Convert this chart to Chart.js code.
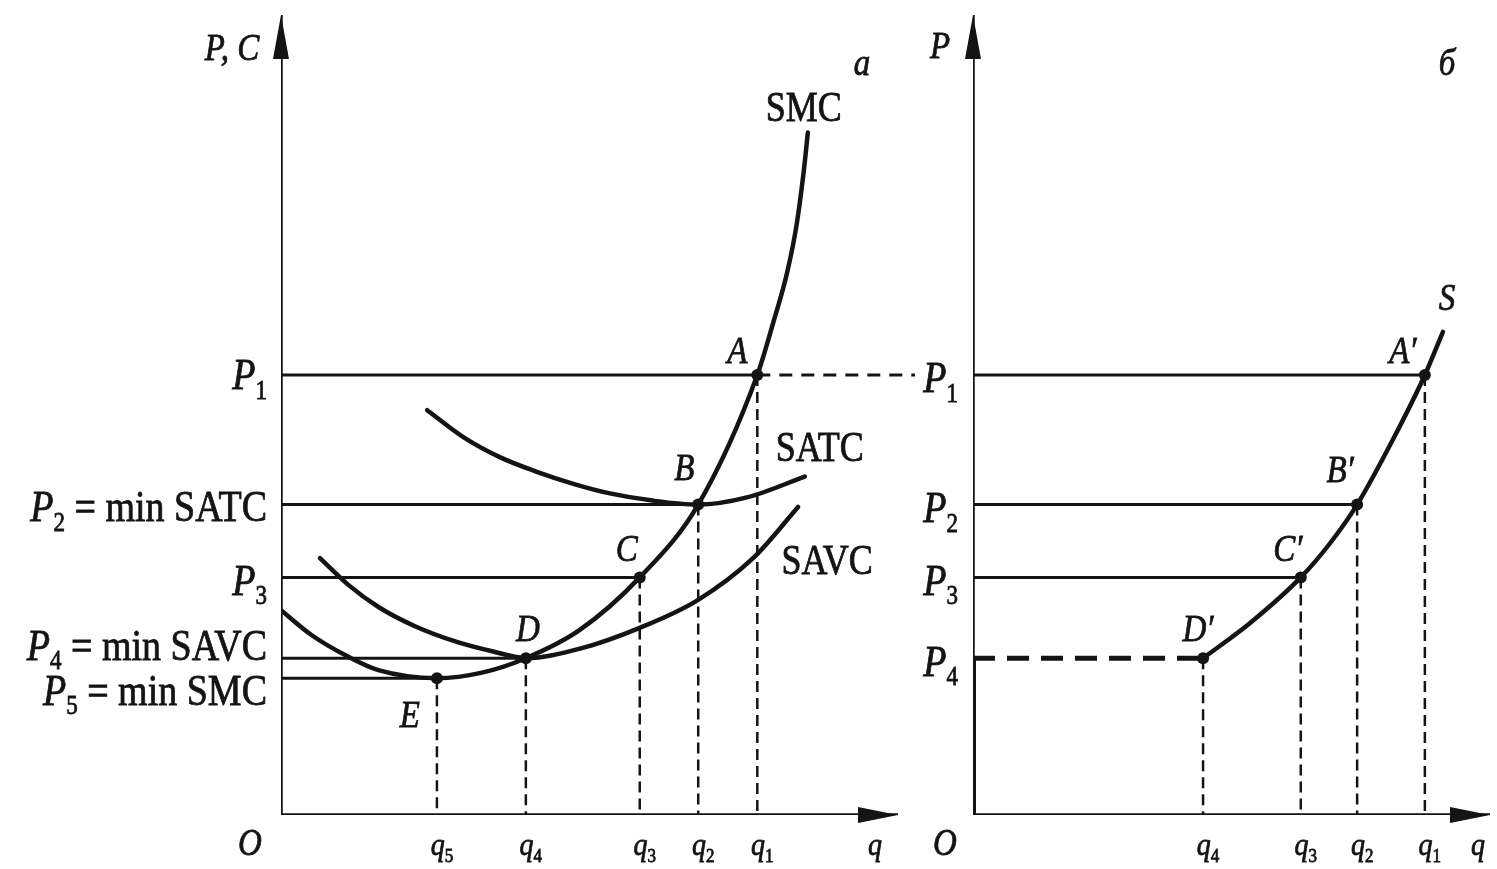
<!DOCTYPE html>
<html><head><meta charset="utf-8">
<script src="https://cdn.jsdelivr.net/npm/chart.js@4.4.1/dist/chart.umd.min.js"></script>
<style>
html,body{margin:0;padding:0;background:#fff;overflow:hidden}
#wrap{position:relative;width:1497px;height:869px;background:#fff}
canvas{position:absolute;left:0;top:0}
</style></head><body>
<div id="wrap"><canvas id="ca" width="1497" height="869"></canvas><canvas id="cb" width="1497" height="869"></canvas></div>
<script>
// ---------- Panel а (costs) ----------
const qA = [7.82, 6.85, 5.89, 4.02, 2.56];            // q1..q5
const pA = [5.5, 3.88, 2.97, 1.96, 1.71];             // P1..P5
const qTickLabelsA = ['q_1', 'q_2', 'q_3', 'q_4', 'q_5'];
const pTickLabelsA = ['P_1', 'P_2 = min SATC', 'P_3', 'P_4 = min SAVC', 'P_5 = min SMC'];
const pointLabelsA = ['A', 'B', 'C', 'D', 'E'];
const smcQ  = [0, 0.5, 1.1, 1.6, 2.56, 3.3, 4.02, 4.9, 5.89, 6.85, 7.82, 8.08, 8.31, 8.47, 8.58, 8.65];
const smcC  = [2.56, 2.25, 1.98, 1.81, 1.71, 1.78, 1.96, 2.31, 2.97, 3.88, 5.5, 6.15, 6.78, 7.4, 8.03, 8.53];
const satcQ = [2.40, 3.0, 3.6, 4.2, 4.8, 5.4, 6.1, 6.85, 7.65, 8.60];
const satcC = [5.06, 4.72, 4.47, 4.29, 4.14, 4.02, 3.93, 3.88, 3.97, 4.23];
const savcQ = [0.64, 1.1, 1.6, 2.2, 2.9, 3.5, 4.02, 4.91, 5.89, 6.83, 7.75, 8.49];
const savcC = [3.21, 2.88, 2.60, 2.36, 2.16, 2.04, 1.96, 2.08, 2.34, 2.68, 3.21, 3.85];
const curveNamesA = ['SMC', 'SATC', 'SAVC'];
const p1DashEndA = 10.41;

// ---------- Panel б (supply) ----------
const qB = [8.74, 7.43, 6.34, 4.45];                  // q1..q4
const pB = [5.5, 3.88, 2.97, 1.96];                   // P1..P4
const qTickLabelsB = ['q_1', 'q_2', 'q_3', 'q_4'];
const pTickLabelsB = ['P_1', 'P_2', 'P_3', 'P_4'];
const pointLabelsB = ['A\u2032', 'B\u2032', 'C\u2032', 'D\u2032'];
const supplyQ = [4.45, 5.36, 6.34, 6.91, 7.43, 8.12, 8.74, 9.09];
const supplyP = [1.96, 2.40, 2.97, 3.40, 3.88, 4.69, 5.50, 6.04];

const INK = '#141414';
const FONT = '"Liberation Serif", "DejaVu Serif", serif';
const SY = 1.15;

function pts(xs, ys) { return xs.map((x, i) => ({ x, y: ys[i] })); }

function parseRich(str, style) {
  if (style === 'roman') return [{ t: str }];
  if (style === 'italic') return [{ t: str, it: true }];
  const sp = str.indexOf(' ');
  const head = sp < 0 ? str : str.slice(0, sp);
  const tail = sp < 0 ? '' : str.slice(sp);
  const parts = head.split('_');
  const segs = [{ t: parts[0], it: true }];
  if (parts[1]) segs.push({ t: parts[1], sub: true });
  if (tail) segs.push({ t: tail });
  return segs;
}

function drawRich(ctx, segs, x, cy, align, size) {
  ctx.save();
  const base = cy + 0.33 * size * SY;
  ctx.translate(x, base);
  ctx.scale(1, SY);
  const fonts = segs.map(s => (s.it ? 'italic ' : '') + (s.sub ? Math.round(size * 0.6) : size) + 'px ' + FONT);
  const widths = segs.map((s, i) => { ctx.font = fonts[i]; return ctx.measureText(s.t).width; });
  const total = widths.reduce((a, b) => a + b, 0);
  let cx = align === 'right' ? -total : (align === 'center' ? -total / 2 : 0);
  ctx.textBaseline = 'alphabetic';
  ctx.fillStyle = INK;
  ctx.strokeStyle = INK;
  ctx.lineWidth = 0.7;
  segs.forEach((s, i) => {
    ctx.font = fonts[i];
    const yy = s.sub ? size * 0.22 : 0;
    ctx.fillText(s.t, cx, yy);
    ctx.strokeText(s.t, cx, yy);
    cx += widths[i];
  });
  ctx.restore();
}

const econPlugin = {
  id: 'econ',
  afterDatasetsDraw(chart, args, opts) {
    const ctx = chart.ctx, xs = chart.scales.x, ys = chart.scales.y;
    const ox = xs.getPixelForValue(0), oy = ys.getPixelForValue(0);
    const tx = xs.getPixelForValue(xs.max), ty = ys.getPixelForValue(ys.max);
    ctx.save();
    ctx.fillStyle = INK;
    ctx.beginPath();
    ctx.moveTo(ox, ty); ctx.lineTo(ox - 8, ty + 44); ctx.lineTo(ox + 8, ty + 44); ctx.closePath(); ctx.fill();
    ctx.beginPath();
    ctx.moveTo(tx, oy); ctx.lineTo(tx - 40, oy - 8); ctx.lineTo(tx - 40, oy + 8); ctx.closePath(); ctx.fill();
    ctx.restore();
    (opts.labels || []).forEach(l => {
      drawRich(ctx, parseRich(l.text, l.style), xs.getPixelForValue(l.x) + l.dx, ys.getPixelForValue(l.y) + l.dy, l.align || 'center', l.size);
    });
  }
};

function lineDs(data, width, dash, extra) {
  return Object.assign({ data, showLine: true, borderColor: INK, borderWidth: width, borderDash: dash || [],
    pointRadius: 0, pointHoverRadius: 0, fill: false, tension: 0, borderCapStyle: 'butt' }, extra || {});
}
function curveDs(data) {
  return lineDs(data, 4.5, [], { cubicInterpolationMode: 'monotone', borderCapStyle: 'round' });
}
function markerDs(data) {
  return { data, showLine: false, pointRadius: 6, pointHoverRadius: 6, pointBackgroundColor: INK, pointBorderColor: INK, pointBorderWidth: 0 };
}

function baseOptions(pad, xmax, ymax, labels) {
  return {
    responsive: false, animation: false, events: [],
    layout: { padding: pad, autoPadding: false },
    scales: {
      x: { type: 'linear', min: 0, max: xmax, display: false },
      y: { type: 'linear', min: 0, max: ymax, display: false }
    },
    plugins: { legend: { display: false }, tooltip: { enabled: false }, econ: { labels } }
  };
}

const VDASH = [11, 6];
const QLAB_DY = 29, QLAB_SIZE = 28;

// ---------- Chart а ----------
const XMAX_A = 10.13, YMAX = 10;
const pOffA = [[0, 0], [0, 2], [0, 3], [0, -13], [0, 12]];
const ptOffA = [[-20, -25], [-14, -37], [-13, -29], [2, -30], [-27, 36]];
const dsA = [];
dsA.push(lineDs([{ x: 0, y: 0 }, { x: XMAX_A, y: 0 }], 3.5));
dsA.push(lineDs([{ x: 0, y: 0 }, { x: 0, y: YMAX }], 3.5));
qA.forEach((q, i) => dsA.push(lineDs([{ x: 0, y: pA[i] }, { x: q, y: pA[i] }], 3)));
dsA.push(lineDs([{ x: qA[0], y: pA[0] }, { x: p1DashEndA, y: pA[0] }], 3, [13, 9], { clip: false }));
qA.forEach((q, i) => dsA.push(lineDs([{ x: q, y: pA[i] }, { x: q, y: 0 }], 2.5, VDASH)));
dsA.push(curveDs(pts(smcQ, smcC)));
dsA.push(curveDs(pts(satcQ, satcC)));
dsA.push(curveDs(pts(savcQ, savcC)));
dsA.push(markerDs(pts(qA, pA)));

const labelsA = [
  { x: 0, y: YMAX, dx: -49, dy: 32, text: 'P, C', style: 'italic', size: 33 },
  { x: 0, y: 0, dx: -31, dy: 27, text: 'O', style: 'italic', size: 33 },
  { x: XMAX_A, y: 0, dx: -23, dy: QLAB_DY, text: 'q', style: 'italic', size: QLAB_SIZE },
  { x: XMAX_A, y: YMAX, dx: -36, dy: 47, text: '\u0430', style: 'italic', size: 33 },
  ...pTickLabelsA.map((t, i) => ({ x: 0, y: pA[i], dx: -14 + pOffA[i][0], dy: pOffA[i][1], text: t, style: 'math', size: 38, align: 'right' })),
  ...qTickLabelsA.map((t, i) => ({ x: qA[i], y: 0, dx: 5, dy: QLAB_DY, text: t, style: 'math', size: QLAB_SIZE })),
  ...pointLabelsA.map((t, i) => ({ x: qA[i], y: pA[i], dx: ptOffA[i][0], dy: ptOffA[i][1], text: t, style: 'italic', size: 33 })),
  { x: smcQ[smcQ.length - 1], y: smcC[smcC.length - 1], dx: -4, dy: -25, text: curveNamesA[0], style: 'roman', size: 36 },
  { x: satcQ[satcQ.length - 1], y: satcC[satcC.length - 1], dx: 15, dy: -29, text: curveNamesA[1], style: 'roman', size: 36 },
  { x: savcQ[savcQ.length - 1], y: savcC[savcC.length - 1], dx: 29, dy: 53, text: curveNamesA[2], style: 'roman', size: 36 }
];

new Chart(document.getElementById('ca'), {
  type: 'scatter',
  data: { datasets: dsA },
  options: baseOptions({ left: 281, right: 1497 - 898, top: 15, bottom: 54 }, XMAX_A, YMAX, labelsA),
  plugins: [econPlugin]
});

// ---------- Chart б ----------
const XMAX_B = 10;
const ptOffB = [[-22, -25], [-17, -35], [-13, -29], [-5, -30]];
const dsB = [];
dsB.push(lineDs([{ x: 0, y: 0 }, { x: XMAX_B, y: 0 }], 3.5));
dsB.push(lineDs([{ x: 0, y: 0 }, { x: 0, y: YMAX }], 3.5));
dsB.push(lineDs([{ x: 0, y: 0 }, { x: 0, y: pB[3] }], 6));
for (let i = 0; i < 3; i++) dsB.push(lineDs([{ x: 0, y: pB[i] }, { x: qB[i], y: pB[i] }], 3));
dsB.push(lineDs([{ x: 0, y: pB[3] }, { x: qB[3], y: pB[3] }], 5, [22, 12]));
qB.forEach((q, i) => dsB.push(lineDs([{ x: q, y: pB[i] }, { x: q, y: 0 }], 2.5, VDASH)));
dsB.push(curveDs(pts(supplyQ, supplyP)));
dsB.push(markerDs(pts(qB, pB)));

const labelsB = [
  { x: 0, y: YMAX, dx: -33, dy: 30, text: 'P', style: 'italic', size: 33 },
  { x: 0, y: 0, dx: -28, dy: 27, text: 'O', style: 'italic', size: 33 },
  { x: XMAX_B, y: 0, dx: -12, dy: QLAB_DY, text: 'q', style: 'italic', size: QLAB_SIZE },
  { x: XMAX_B, y: YMAX, dx: -43, dy: 47, text: '\u0431', style: 'italic', size: 33 },
  ...pTickLabelsB.map((t, i) => ({ x: 0, y: pB[i], dx: -15, dy: 3, text: t, style: 'math', size: 38, align: 'right' })),
  ...qTickLabelsB.map((t, i) => ({ x: qB[i], y: 0, dx: 5, dy: QLAB_DY, text: t, style: 'math', size: QLAB_SIZE })),
  ...pointLabelsB.map((t, i) => ({ x: qB[i], y: pB[i], dx: ptOffB[i][0], dy: ptOffB[i][1], text: t, style: 'italic', size: 33 })),
  { x: supplyQ[supplyQ.length - 1], y: supplyP[supplyP.length - 1], dx: 4, dy: -34, text: 'S', style: 'italic', size: 33 }
];

new Chart(document.getElementById('cb'), {
  type: 'scatter',
  data: { datasets: dsB },
  options: baseOptions({ left: 973, right: 1497 - 1490, top: 15, bottom: 54 }, XMAX_B, YMAX, labelsB),
  plugins: [econPlugin]
});
</script>
</body></html>
